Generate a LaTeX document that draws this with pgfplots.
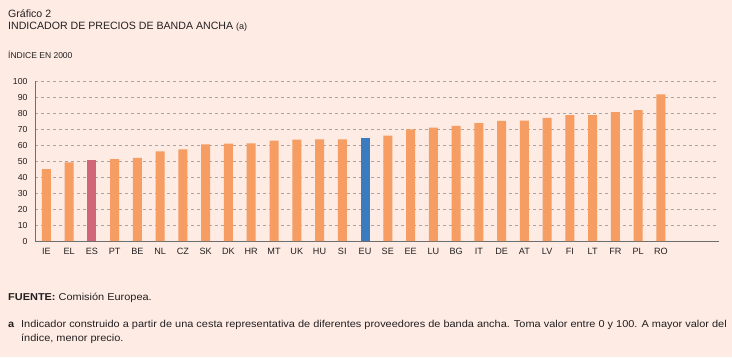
\documentclass[border=0pt]{standalone}
\usepackage{pgfplots}
\pgfplotsset{compat=1.18}
\usepackage{fontspec}
\setmainfont{Liberation Sans}
\newfontfamily\widefont[FakeStretch=1.095]{Liberation Sans}
\definecolor{bg}{RGB}{253,235,228}
\definecolor{barorange}{RGB}{245,157,98}
\definecolor{barpink}{RGB}{208,102,120}
\definecolor{barblue}{RGB}{59,123,192}
\definecolor{txt}{RGB}{35,31,32}
\definecolor{gridc}{RGB}{170,165,165}
\definecolor{axisc}{RGB}{110,110,110}
\begin{document}
\begin{tikzpicture}[x=1pt,y=1pt]
\fill[bg] (0,0) rectangle (732,-357);
\path (0,0) rectangle (732,-357);
\node[anchor=base west,inner sep=0,font=\fontsize{10.6}{12}\selectfont,text=txt] at (8,-17.3) {Gráfico 2};
\node[anchor=base west,inner sep=0,font=\fontsize{10.6}{12}\selectfont,text=txt] at (8,-29.6) {INDICADOR DE PRECIOS DE BANDA ANCHA {\fontsize{9}{10}\selectfont(a)}};
\node[anchor=base west,inner sep=0,font=\fontsize{8.5}{10}\selectfont,text=txt] at (8,-58.7) {ÍNDICE EN 2000};
\begin{axis}[
  at={(35pt,-241pt)}, anchor=south west,
  scale only axis, width=684pt, height=160pt,
  xmin=-0.5, xmax=29.55, ymin=0, ymax=100,
  axis line style={axisc, line width=0.6pt},
  axis x line*=bottom, axis y line*=left,
  /pgf/number format/assume math mode=true,
  ytick={0,10,...,100},
  ymajorgrids, grid style={gridc, dashed, line width=0.4pt},
  y tick label style={font=\fontsize{8.7}{10}\selectfont, text=txt, anchor=east, xshift=-4pt},
  ytick style={draw=none},
  xtick={0,...,28},
  xticklabels={IE,EL,ES,PT,BE,NL,CZ,SK,DK,HR,MT,UK,HU,SI,EU,SE,EE,LU,BG,IT,DE,AT,LV,FI,LT,FR,PL,RO},
  x tick label style={font=\fontsize{9.1}{10}\selectfont, text=txt, yshift=-4pt},
  xtick style={draw=none},
  extra x ticks={0.5,1.5,...,29.5},
  extra x tick labels={},
  extra x tick style={tick style={draw=axisc, line width=0.4pt}, major tick length=3pt, tick align=inside, grid=none},
  bar width=9pt,
]
\addplot[ybar, fill=barorange, draw=none, bar shift=0pt] coordinates {
(0,45.0) (1,49.2) (3,51.1) (4,51.9) (5,56.0) (6,57.3) (7,60.4) (8,60.8) (9,61.0) (10,62.7) (11,63.3) (12,63.5) (13,63.5) (15,65.8) (16,69.7) (17,70.9) (18,72.0) (19,73.7) (20,75.1) (21,75.3) (22,77.0) (23,78.7) (24,78.6) (25,80.5) (26,81.8) (27,91.7)
};
\addplot[ybar, fill=barpink, draw=none, bar shift=0pt] coordinates {(2,50.8)};
\addplot[ybar, fill=barblue, draw=none, bar shift=0pt] coordinates {(14,64.5)};
\end{axis}
\node[anchor=base west,inner sep=0,font=\widefont\fontsize{10}{11}\selectfont,text=txt] at (8,-300.5) {\textbf{FUENTE:} Comisión Europea.};
\node[anchor=base west,inner sep=0,font=\widefont\fontsize{10}{11}\selectfont,text=txt] at (8,-327.5) {\textbf{a}};
\node[anchor=base west,inner sep=0,font=\widefont\fontsize{10}{11}\selectfont,text=txt] at (21,-327.5) {Indicador construido a partir de una cesta representativa de diferentes proveedores de banda ancha. Toma valor entre 0 y 100. A mayor valor del};
\node[anchor=base west,inner sep=0,font=\widefont\fontsize{10}{11}\selectfont,text=txt] at (21,-341.5) {índice, menor precio.};
\end{tikzpicture}
\end{document}
